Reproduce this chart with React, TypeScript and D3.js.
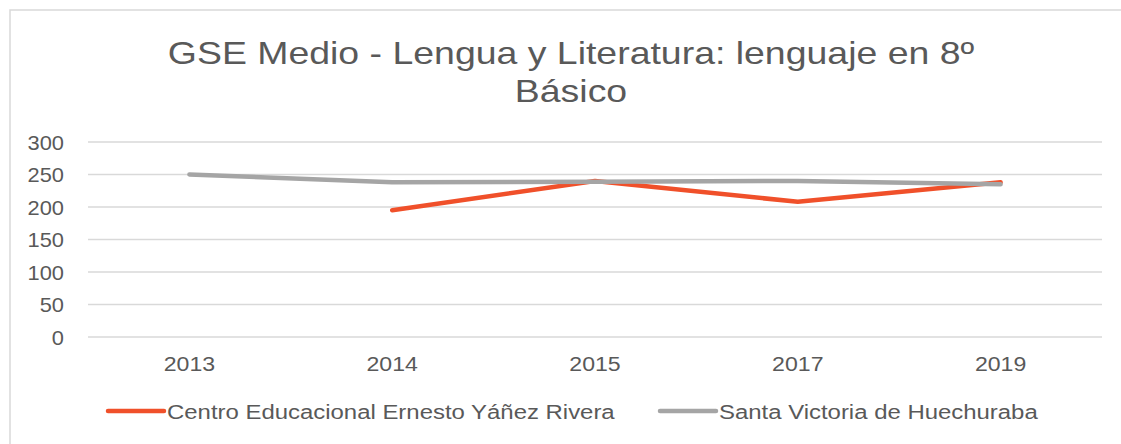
import React from "react";
import * as d3 from "d3";

const years = ["2013", "2014", "2015", "2017", "2019"];
const centroValues: (number | null)[] = [null, 195, 240, 208, 238];
const santaValues: (number | null)[] = [250, 238, 239, 240, 235];
const yTicks = [0, 50, 100, 150, 200, 250, 300];
const seriesNames = ["Centro Educacional Ernesto Yáñez Rivera", "Santa Victoria de Huechuraba"];
const titleLines = ["GSE Medio - Lengua y Literatura: lenguaje en 8º", "Básico"];

const W = 1121;
const H = 444;
const plot = { left: 88, right: 1102, top: 142, bottom: 337 };
const FONT = "'Liberation Sans', Arial, sans-serif";
const TEXT = "#595959";
const RED = "#F0502A";
const GRAY = "#A5A5A5";

const tr = (x: number, y: number, s: number) => `translate(${x},${y}) scale(${s},1)`;

export default function App() {
  const x = d3.scaleBand<string>().domain(years).range([plot.left, plot.right]);
  const y = d3.scaleLinear().domain([0, 300]).range([plot.bottom, plot.top]);
  const cx = (d: string) => (x(d) ?? 0) + x.bandwidth() / 2;

  const makeLine = (vals: (number | null)[]) =>
    d3
      .line<number>()
      .defined((_, i) => vals[i] != null)
      .x((_, i) => cx(years[i]))
      .y((_, i) => y(vals[i] as number))(vals.map((v) => (v == null ? 0 : v)));

  const series = [
    { name: seriesNames[0], vals: centroValues, color: RED },
    { name: seriesNames[1], vals: santaValues, color: GRAY },
  ];
  const legendX = [108, 660];

  return (
    <svg width={W} height={H} style={{ position: "absolute", left: 0, top: 0, background: "#fff" }} fontFamily={FONT}>
      <rect x={10} y={10} width={W + 20} height={H + 20} fill="#fff" stroke="#D9D9D9" strokeWidth={1.5} />
      {titleLines.map((t, i) => (
        <text key={i} transform={tr(571, 64 + i * 38, 1.17)} textAnchor="middle" fontSize={32} fill={TEXT}>
          {t}
        </text>
      ))}
      {yTicks.map((t) => (
        <g key={t}>
          <line x1={plot.left} x2={plot.right} y1={y(t)} y2={y(t)} stroke="#D9D9D9" strokeWidth={1.3} />
          <text transform={tr(64, y(t), 1.04)} dy="0.36em" textAnchor="end" fontSize={21} fill={TEXT}>
            {t}
          </text>
        </g>
      ))}
      {years.map((yr) => (
        <text key={yr} transform={tr(cx(yr), 371, 1.1)} textAnchor="middle" fontSize={21} fill={TEXT}>
          {yr}
        </text>
      ))}
      {series.map((s) => (
        <path
          key={s.name}
          d={makeLine(s.vals) ?? ""}
          fill="none"
          stroke={s.color}
          strokeWidth={4.5}
          strokeLinecap="round"
          strokeLinejoin="round"
        />
      ))}
      {series.map((s, i) => (
        <g key={s.name}>
          <line x1={legendX[i]} x2={legendX[i] + 56} y1={411} y2={411} stroke={s.color} strokeWidth={4.5} strokeLinecap="round" />
          <text transform={tr(legendX[i] + 59, 411, 1.14)} dy="0.36em" fontSize={21} fill={TEXT}>
            {s.name}
          </text>
        </g>
      ))}
    </svg>
  );
}
